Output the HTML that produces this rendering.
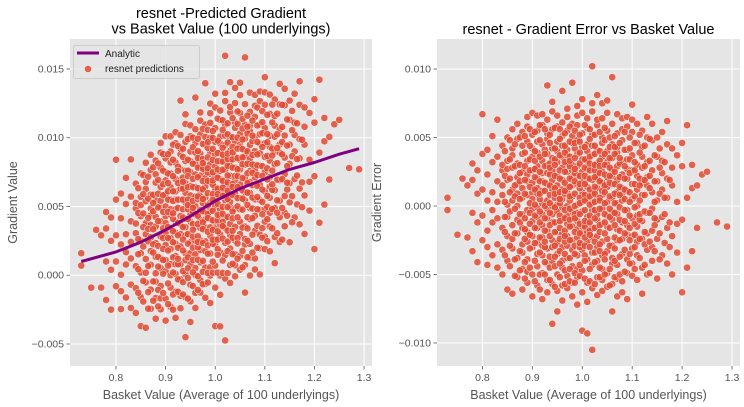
<!DOCTYPE html>
<html><head><meta charset="utf-8"><style>
html,body{margin:0;padding:0;background:#fff;}
svg{display:block;font-family:"Liberation Sans","DejaVu Sans",sans-serif;}
</style></head><body>
<svg id="chart" width="744" height="407" viewBox="0 0 744 407" xmlns="http://www.w3.org/2000/svg"></svg>
<script>
// Analytic curve (gradient, x0.001)
const analyticX = [0.73,0.80,0.85,0.90,0.95,1.00,1.05,1.10,1.15,1.20,1.25,1.29];
const analyticY = [1.0,1.7,2.4,3.3,4.3,5.4,6.3,7.0,7.7,8.2,8.8,9.2];
// Basket value bins and resnet error values (x0.001) for points in each bin
const binX = [0.73,0.75,0.76,0.77,0.78,0.79,0.80,0.81,0.82,0.83,0.84,0.85,0.86,0.87,0.88,0.89,0.90,0.91,0.92,0.93,0.94,0.95,0.96,0.97,0.98,0.99,1.00,1.01,1.02,1.03,1.04,1.05,1.06,1.07,1.08,1.09,1.10,1.11,1.12,1.13,1.14,1.15,1.16,1.17,1.18,1.19,1.20,1.21,1.22,1.23,1.24,1.25,1.27,1.29];
const binErr = [
[-0.3,0.6],[-2.1],[2.0],[-2.3,1.5],[-3.3,3.1,-0.5,1.9],[-4.1,0.9,-1.2,2.6],
[6.7,-2.5,1.2,3.8,-0.7],[-4.3,0.4,2.3,-1.8,4.1,-3.0],[-1.2,3.2,-3.6,1.0,5.1,-0.3],
[6.3,-2.8,1.8,-0.9,3.6,-4.5,0.3],[-5.0,2.6,-1.6,4.4,0.8,-3.2,1.5,3.0],
[5.0,-2.2,0.1,3.3,-4.0,1.9,-0.8,-6.1,2.7],[-6.4,4.2,-1.4,1.2,-3.1,2.8,0.4,5.6,-2.4,3.7],
[4.9,-3.8,0.9,-1.0,2.1,-5.2,3.1,6.0,-2.0,0.0,1.6],
[-4.6,2.5,-0.6,5.4,-2.8,1.3,-1.6,3.8,-6.1,0.6,4.4,-3.4],
[6.5,-3.9,1.8,-0.3,3.3,-5.6,2.3,-1.9,0.8,4.7,-2.6,-4.8,5.8],
[-5.0,3.6,-1.1,1.0,5.2,-3.0,2.6,-0.2,4.2,-2.2,0.5,-6.6,1.7,6.8],
[6.6,-4.4,2.0,-0.8,3.9,-2.7,0.9,5.5,-1.6,-5.8,2.9,1.3,-3.5,4.7,-0.1],
[-6.8,4.5,-1.4,2.4,-3.6,0.2,5.9,-2.3,3.3,1.1,-4.9,-0.6,6.7,1.8,-2.9],
[8.8,-5.4,3.0,-0.9,1.6,-3.1,4.9,-1.8,0.4,6.3,-6.3,2.4,-4.2,3.8,-0.2,5.3],
[-8.6,5.6,-2.5,1.2,3.5,-4.0,0.0,6.9,-1.2,2.6,-5.7,4.2,-3.0,1.9,-0.6,7.6],
[-7.7,4.0,-1.9,2.2,-3.5,0.8,5.8,-5.0,3.2,-0.4,1.5,-2.7,6.6,-6.2,4.7,0.1],
[8.4,-4.5,2.8,-1.0,0.5,-3.0,4.4,1.9,-5.8,6.1,-2.0,3.6,-0.1,-6.9,1.2,5.1,-4.0],
[-6.0,3.1,-2.2,1.4,5.5,-3.8,0.0,7.1,-1.3,2.5,-5.1,4.1,-0.7,6.5,-2.9,1.0,3.7],
[9.0,-5.6,2.1,-0.4,4.6,-2.5,1.5,-4.4,6.0,-1.5,3.0,-6.6,0.7,5.1,-3.2,2.6,-0.9],
[-7.2,4.8,-1.7,2.9,0.1,-3.6,5.9,-5.2,1.6,7.3,-2.3,3.8,-0.5,-4.6,2.2,6.6,-1.1],
[-9.1,5.3,-2.8,1.0,3.4,-4.7,0.3,6.8,-1.5,2.5,-6.3,4.3,-0.4,-3.2,1.8,7.8,-2.0,0.8],
[-9.3,4.5,-1.9,2.0,-3.9,0.6,5.7,-5.6,3.3,-0.8,1.4,6.4,-2.6,4.0,-7.0,2.7,-1.2],
[10.2,-10.5,3.7,-2.3,0.9,5.2,-4.3,1.9,-0.3,6.9,-6.0,2.8,-1.6,4.4,-3.4,0.2,7.5],
[-6.5,4.1,-1.0,2.3,-3.0,0.5,5.9,-5.2,3.1,1.3,-2.2,6.3,-0.6,-4.0,2.0,8.1],
[7.5,-4.6,1.7,-2.6,3.6,-0.2,5.0,-6.2,2.5,-1.3,0.8,4.6,-3.6,6.4,-5.4,1.1],
[-5.9,3.2,-1.5,0.3,5.5,-3.3,2.1,-0.7,6.8,-4.9,4.0,1.4,-2.4,7.7,3.0],
[9.4,-4.2,2.6,-1.0,4.5,-2.9,0.6,-5.7,3.5,1.6,-0.4,6.0,-3.8,2.2,-7.7],
[-5.3,3.9,-0.6,1.9,-2.5,5.3,0.2,-4.3,2.9,6.7,-1.7,4.3,-6.6,1.0],
[6.4,-3.5,1.3,-1.2,3.3,-5.5,0.4,4.8,-2.4,2.3,-6.3,5.6,0.9],
[-4.9,2.7,-0.3,4.1,-2.1,1.1,5.8,-3.9,2.0,-6.8,6.5,-1.4,3.4],
[5.4,-3.1,1.6,-0.9,3.7,-5.1,0.5,6.3,-2.2,2.6,-4.2,7.4],
[-3.6,2.2,-1.5,4.6,0.0,-5.4,3.0,-2.6,1.2,6.0,-0.7],
[4.3,-2.4,0.8,-4.5,2.8,-1.1,5.5,-6.4,1.7,3.6],
[-3.2,1.5,5.0,-0.5,3.2,-5.0,2.1,-2.0,6.5],
[4.8,-1.8,1.0,-4.0,2.6,-0.2,6.0,-3.0],
[-5.3,3.6,0.4,-2.4,5.0,1.8,-1.0],
[3.3,-3.6,1.2,5.4,-0.8,2.4],
[-4.2,2.0,-1.6,4.5,0.6,6.2],
[4.2,-2.2,1.5,-5.0,2.8],
[-3.4,0.3,3.7,-1.3],
[-6.3,2.9,4.6,-1.0],
[5.9,-4.5,0.6],
[-3.3,3.0,1.3],
[1.5,-1.6],[2.3],[2.5],[-1.2],[-1.5]
];
// Dense-core points (second batch, offset bins)
const binX2 = [0.845,0.855,0.865,0.875,0.885,0.895,0.905,0.915,0.925,0.935,0.945,0.955,0.965,0.975,0.985,0.995,1.005,1.015,1.025,1.035,1.045,1.055,1.065,1.075,1.085,1.095,1.105,1.115,1.125,1.135,1.145,1.155,1.165,1.175];
const binErr2 = [
[-1.9,2.2,0.3,-3.6,4.0,-0.8],
[1.0,-2.9,3.4,-0.4,-4.4,2.0,4.8],
[-0.2,2.9,-2.0,4.5,-3.9,1.5,-5.1,0.7],
[3.0,-1.2,0.5,-3.3,5.0,-4.7,1.8,-0.6,2.4],
[-2.4,0.9,3.9,-4.1,1.9,-0.9,5.1,-5.3,2.9,-1.7],
[1.4,-3.1,4.4,-0.5,2.6,-4.5,0.2,5.6,-2.1,3.4,-1.3],
[-1.6,2.1,-4.0,3.3,0.1,-2.7,5.4,-5.5,1.2,4.0,-0.7,2.7],
[0.5,-2.3,3.6,-5.0,1.8,-0.4,4.8,-3.4,2.5,-1.2,5.9,-6.1,0.9],
[-3.0,1.1,4.1,-1.8,2.9,-5.0,0.0,3.8,-2.6,5.6,-0.9,1.7,-4.1],
[2.3,-0.5,-3.7,4.6,0.8,-2.2,5.2,-5.4,1.5,3.1,-1.4,-4.5,2.8,0.2],
[-1.2,3.4,-4.4,0.6,2.2,-2.9,5.7,-0.1,4.2,-5.9,1.3,-3.7,3.0,-1.9,0.9],
[0.2,-3.3,2.6,4.9,-1.6,1.0,-5.2,3.7,-0.7,-2.4,5.6,-4.2,2.0,-1.1,0.5],
[-2.6,1.7,-0.3,3.9,-4.7,2.5,0.9,-1.8,5.3,-5.7,3.2,-3.5,1.1,4.4,-0.9,-2.2],
[3.6,-1.0,0.4,-3.8,2.0,-5.5,4.7,-2.5,1.4,-0.2,5.8,-4.6,2.9,0.7,-1.5,3.3],
[-0.6,2.4,-2.9,4.2,0.0,-4.9,1.8,3.5,-1.9,5.5,-3.5,0.9,-5.6,2.7,-0.9,4.6],
[1.3,-2.0,3.1,-4.3,0.6,5.2,-1.3,2.2,-5.1,3.9,-3.0,0.2,4.7,-0.6,-2.7,1.6],
[-1.5,2.8,-3.6,0.8,4.3,-2.3,1.6,-5.3,3.4,-0.3,5.9,-4.0,2.2,-1.1,0.4,-2.9],
[0.1,3.6,-1.8,2.0,-4.6,4.9,-0.7,-3.0,1.2,5.6,-5.5,2.6,-2.1,3.1,0.7,-1.2],
[2.6,-0.9,-4.1,1.4,3.8,-2.6,0.3,5.2,-5.7,-1.6,2.1,4.4,-3.4,0.9,-0.3,3.0],
[-2.8,0.6,4.0,-1.4,2.4,-4.5,5.4,-0.2,1.8,-3.3,3.3,-5.2,0.4,2.9,-1.9],
[1.5,-3.5,3.0,-0.6,4.8,-2.0,0.2,-5.0,2.3,5.7,-1.2,-3.9,1.0,3.8],
[-0.8,2.2,-2.9,4.3,0.7,-4.6,3.5,-1.6,1.7,-5.8,5.0,-0.2,2.8],
[0.9,-2.3,3.8,-4.0,1.6,-0.5,5.1,-3.1,2.5,-1.4,4.3,-5.2,0.2],
[-1.8,3.1,-0.1,-3.7,2.1,4.6,-2.5,0.8,-5.0,3.5,1.4,-1.0],
[2.0,-1.1,4.1,-3.2,0.5,-4.8,2.9,5.4,-2.0,1.2,-0.3],
[-2.5,1.0,3.4,-0.7,-4.2,2.4,5.0,-1.6,0.3,-3.5,4.2],
[0.7,-3.0,2.6,-1.3,4.6,-4.6,1.6,-0.1,3.2,-2.1],
[-1.0,2.0,-3.8,3.9,0.4,-2.4,5.2,-0.6,1.5],
[2.9,-1.9,0.8,-4.3,4.4,-0.4,1.9,-2.8],
[-0.5,3.3,-2.6,1.3,-4.9,2.2,4.9],
[1.8,-1.4,3.7,-3.3,0.3,-0.9],
[-2.0,0.9,2.8,-3.9,4.2],
[0.6,-2.7,3.2,-0.6],
[-1.2,1.9,-3.0]
];
const leftYTicks = [-0.005,0.000,0.005,0.010,0.015];
const leftYLabels = ["\u22120.005","0.000","0.005","0.010","0.015"];
const rightYTicks = [-0.010,-0.005,0.000,0.005,0.010];
const rightYLabels = ["\u22120.010","\u22120.005","0.000","0.005","0.010"];
const xTicks = [0.8,0.9,1.0,1.1,1.2,1.3];
const xLabels = ["0.8","0.9","1.0","1.1","1.2","1.3"];

const NS="http://www.w3.org/2000/svg";
const svg=document.getElementById('chart');
function mk(tag,attrs,parent){const e=document.createElementNS(NS,tag);for(const k in attrs)e.setAttribute(k,attrs[k]);(parent||svg).appendChild(e);return e;}
function analytic(x){
  if(x<=analyticX[0])return analyticY[0];
  for(let i=1;i<analyticX.length;i++){if(x<=analyticX[i]){const t=(x-analyticX[i-1])/(analyticX[i]-analyticX[i-1]);return analyticY[i-1]+t*(analyticY[i]-analyticY[i-1]);}}
  return analyticY[analyticY.length-1];
}
function panel(cfg){
  const g=mk('g',{});
  
  
  const sx=v=>cfg.x0+(v-cfg.xmin)/(cfg.xmax-cfg.xmin)*(cfg.x1-cfg.x0);
  const sy=v=>cfg.y1-(v-cfg.ymin)/(cfg.ymax-cfg.ymin)*(cfg.y1-cfg.y0);
  const bg=mk('rect',{x:cfg.x0,y:cfg.y0,width:cfg.x1-cfg.x0,height:cfg.y1-cfg.y0,fill:'#e5e5e5'},g);
  
  
  xTicks.forEach((t,i)=>{const x=sx(t);
    mk('line',{x1:x,x2:x,y1:cfg.y0,y2:cfg.y1,stroke:'#fff','stroke-width':1},g);
    mk('line',{x1:x,x2:x,y1:cfg.y1,y2:cfg.y1+3.5,stroke:'#555','stroke-width':0.8},g);
    const tx=mk('text',{x:x,y:cfg.y1+15,'font-size':10.5,fill:'#555','text-anchor':'middle'},g);tx.textContent=xLabels[i];
    
    
  });
  cfg.yTicks.forEach((t,i)=>{const y=sy(t);
    mk('line',{x1:cfg.x0,x2:cfg.x1,y1:y,y2:y,stroke:'#fff','stroke-width':1},g);
    mk('line',{x1:cfg.x0-3.5,x2:cfg.x0,y1:y,y2:y,stroke:'#555','stroke-width':0.8},g);
    const tx=mk('text',{x:cfg.x0-6,y:y+3.5,'font-size':10.5,fill:'#555','text-anchor':'end'},g);tx.textContent=cfg.yLabels[i];
    
    
  });
  const pg=mk('g',{},g);
  
  
  function draw(xs,errs){xs.forEach((bx,i)=>{errs[i].forEach(e=>{
    const v=cfg.value(bx,e)/1000;
    const c=mk('circle',{cx:sx(bx),cy:sy(v),r:3.6,fill:'#e24a33','fill-opacity':0.85,stroke:'#fff','stroke-width':0.5},pg);
    
    
  });});}
  draw(binX,binErr);
  draw(binX2,binErr2);
  if(cfg.curve){
    let d='';analyticX.forEach((x,i)=>{d+=(i?'L':'M')+sx(x).toFixed(1)+' '+sy(analyticY[i]/1000).toFixed(1);});
    const p=mk('path',{d:d,fill:'none',stroke:'#800080','stroke-width':3,'stroke-linejoin':'round'},g);
    
    
  }
  const tt=mk('g',{},g);
  
  
  cfg.title.forEach((s,i)=>{const t=mk('text',{x:(cfg.x0+cfg.x1)/2,y:cfg.titleY+i*15.5,'font-size':14.5,fill:'#000','text-anchor':'middle'},tt);t.textContent=s;});
  const xl=mk('text',{x:(cfg.x0+cfg.x1)/2,y:399,'font-size':12.5,fill:'#555','text-anchor':'middle'},g);
  xl.textContent='Basket Value (Average of 100 underlyings)';
  
  
  const yc=(cfg.y0+cfg.y1)/2;
  const yl=mk('text',{x:cfg.ylabX,y:yc,'font-size':12.5,fill:'#555','text-anchor':'middle',transform:`rotate(-90 ${cfg.ylabX} ${yc})`},g);
  yl.textContent=cfg.ylabel;
  
  
}
panel({name:'predicted-gradient-panel',x0:70,x1:372,y0:39,y1:366,xmin:0.7073,xmax:1.316,ymin:-0.0066,ymax:0.01718,
  yTicks:leftYTicks,yLabels:leftYLabels,value:(x,e)=>analytic(x)+e,curve:true,
  title:['resnet -Predicted Gradient','vs Basket Value (100 underlyings)'],titleY:18,ylabel:'Gradient Value',ylabX:17});
panel({name:'gradient-error-panel',x0:437,x1:740,y0:39,y1:366,xmin:0.709,xmax:1.316,ymin:-0.01168,ymax:0.01219,
  yTicks:rightYTicks,yLabels:rightYLabels,value:(x,e)=>e,curve:false,
  title:['resnet - Gradient Error vs Basket Value'],titleY:34,ylabel:'Gradient Error',ylabX:381});
// legend
const lg=mk('g',{});


mk('rect',{x:73.5,y:45.5,width:126,height:33,rx:2,fill:'#e5e5e5','fill-opacity':0.8,stroke:'#ccc','stroke-width':1},lg);
const l1=mk('line',{x1:77,x2:99,y1:53,y2:53,stroke:'#800080','stroke-width':3},lg);


const t1=mk('text',{x:105,y:57,'font-size':10,fill:'#222'},lg);t1.textContent='Analytic';


const c1=mk('circle',{cx:88,cy:69,r:3.6,fill:'#e24a33','fill-opacity':0.85,stroke:'#fff','stroke-width':0.5},lg);


const t2=mk('text',{x:105,y:72,'font-size':10,fill:'#222'},lg);t2.textContent='resnet predictions';


</script>
</body></html>
